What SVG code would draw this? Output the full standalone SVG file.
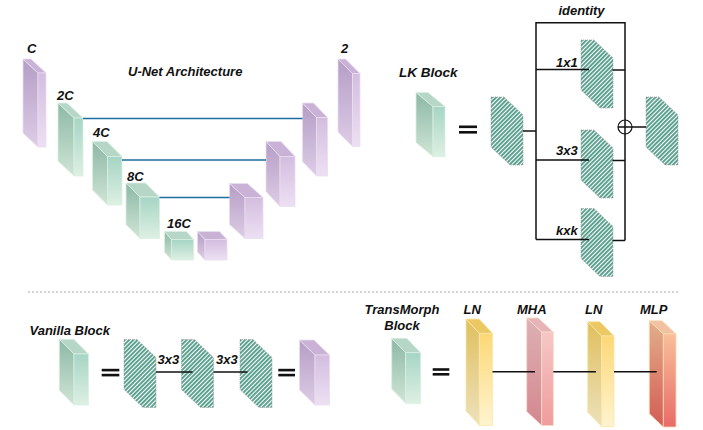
<svg xmlns="http://www.w3.org/2000/svg" xmlns:xlink="http://www.w3.org/1999/xlink" width="703" height="430" viewBox="0 0 703 430">
<defs>
<linearGradient id="pSide" x1="0" y1="0" x2="0" y2="1"><stop offset="0" stop-color="#b59dc5"/><stop offset="1" stop-color="#ddcce6"/></linearGradient>
<linearGradient id="pFront" x1="0" y1="0" x2="0" y2="1"><stop offset="0" stop-color="#d3bddf"/><stop offset="1" stop-color="#ede0f3"/></linearGradient>
<linearGradient id="gSide" x1="0" y1="0" x2="0" y2="1"><stop offset="0" stop-color="#8db8a7"/><stop offset="1" stop-color="#cfe5d5"/></linearGradient>
<linearGradient id="gFront" x1="0" y1="0" x2="0" y2="1"><stop offset="0" stop-color="#a6d5c5"/><stop offset="1" stop-color="#ddf0e3"/></linearGradient>
<linearGradient id="ySide" x1="0" y1="0" x2="0" y2="1"><stop offset="0" stop-color="#e0bf5e"/><stop offset="1" stop-color="#ece1bb"/></linearGradient>
<linearGradient id="yFront" x1="0" y1="0" x2="0" y2="1"><stop offset="0" stop-color="#fcd876"/><stop offset="1" stop-color="#fff4d0"/></linearGradient>
<linearGradient id="rSide" x1="0" y1="0" x2="0" y2="1"><stop offset="0" stop-color="#ddb0b4"/><stop offset="1" stop-color="#d4878f"/></linearGradient>
<linearGradient id="rFront" x1="0" y1="0" x2="0" y2="1"><stop offset="0" stop-color="#f6c7c7"/><stop offset="1" stop-color="#f09c9c"/></linearGradient>
<linearGradient id="oSide" x1="0" y1="0" x2="0" y2="1"><stop offset="0" stop-color="#e3ae8a"/><stop offset="1" stop-color="#d45c54"/></linearGradient>
<linearGradient id="oFront" x1="0" y1="0" x2="0" y2="1"><stop offset="0" stop-color="#f9be9a"/><stop offset="1" stop-color="#e86c68"/></linearGradient>
<pattern id="hatch" patternUnits="userSpaceOnUse" width="3" height="3" patternTransform="rotate(45)">
<rect x="0" y="0" width="1.9" height="3" fill="#559d8b"/>
</pattern>
<path id="hx" d="M0,0 H13 L32,18 V68 H19 L0,50 Z"/>
</defs>
<style>
text{font-family:"Liberation Sans",Arial,sans-serif;font-weight:bold;font-style:italic;font-size:13px;fill:#111}
.p .s{fill:url(#pSide)} .p .f{fill:url(#pFront)} .p .t{fill:#c9b2d6}
.p polygon,.p rect{stroke:#eadcf1;stroke-width:0.8}
.g .s{fill:url(#gSide)} .g .f{fill:url(#gFront)} .g .t{fill:#b6d6c7}
.g polygon,.g rect{stroke:#d9efe1;stroke-width:0.8}
.y .s{fill:url(#ySide)} .y .f{fill:url(#yFront)} .y .t{fill:#ebc862}
.y polygon,.y rect{stroke:#fbe6a8;stroke-width:0.8}
.r .s{fill:url(#rSide)} .r .f{fill:url(#rFront)} .r .t{fill:#e6b4b8}
.r polygon,.r rect{stroke:#f7dac8;stroke-width:0.8}
.o .s{fill:url(#oSide)} .o .f{fill:url(#oFront)} .o .t{fill:#f0c2a2}
.o polygon,.o rect{stroke:#f9dab2;stroke-width:0.8}
.h{fill:url(#hatch);stroke:#9a9a9a;stroke-width:0.8;stroke-dasharray:1 1}
.ln{stroke:#111;stroke-width:1.5;fill:none}
.bl{stroke:#1c6e9e;stroke-width:1.6;fill:none}
.eq{fill:#111}
</style>

<!-- separator -->
<line x1="28" y1="292" x2="680" y2="292" stroke="#aaaaaa" stroke-width="1" stroke-dasharray="2 2"/>

<!-- U-Net -->
<text x="128" y="76">U-Net Architecture</text>
<g id="unet-c" class="p">
<polygon class="s" points="38,73 23,59 23,133 38,147"/>
<polygon class="t" points="23,59 31,59 46,73 38,73"/>
<rect class="f" x="38" y="73" width="8" height="74"/>
<text x="27" y="53">C</text>
</g>
<g id="unet-2c" class="g">
<polygon class="s" points="74,118 58,103 58,161 74,176"/>
<polygon class="t" points="58,103 67,103 83,118 74,118"/>
<rect class="f" x="74" y="118" width="9" height="58"/>
<text x="57" y="99.5">2C</text>
</g>
<g id="unet-4c" class="g">
<polygon class="s" points="107.5,156.5 92.5,141.5 92.5,190 107.5,205"/>
<polygon class="t" points="92.5,141.5 107,141.5 122,156.5 107.5,156.5"/>
<rect class="f" x="107.5" y="156.5" width="14.5" height="48.5"/>
<text x="93" y="137">4C</text>
</g>
<g id="unet-8c" class="g">
<polygon class="s" points="140,197 126,183 126,224.5 140,238.5"/>
<polygon class="t" points="126,183 145.5,183 159.5,197 140,197"/>
<rect class="f" x="140" y="197" width="19.5" height="41.5"/>
<text x="127" y="181">8C</text>
</g>
<g id="unet-16c" class="g">
<polygon class="s" points="171.5,239.5 164.5,231.5 164.5,252 171.5,260"/>
<polygon class="t" points="164.5,231.5 186.5,231.5 193.5,239.5 171.5,239.5"/>
<rect class="f" x="171.5" y="239.5" width="22" height="20.5"/>
<text x="167" y="227.5">16C</text>
</g>
<g id="unet-bottleneck" class="p">
<polygon class="s" points="205,239.5 197.5,231.5 197.5,252 205,260"/>
<polygon class="t" points="197.5,231.5 219.5,231.5 227,239.5 205,239.5"/>
<rect class="f" x="205" y="239.5" width="22" height="20.5"/>
</g>
<g id="unet-d3" class="p">
<polygon class="s" points="245,197.5 229.5,183.5 229.5,224.5 245,238.5"/>
<polygon class="t" points="229.5,183.5 247.5,183.5 263,197.5 245,197.5"/>
<rect class="f" x="245" y="197.5" width="18" height="41"/>
</g>
<g id="unet-d2" class="p">
<polygon class="s" points="280,156.5 266,141.5 266,191.5 280,206.5"/>
<polygon class="t" points="266,141.5 281,141.5 295,156.5 280,156.5"/>
<rect class="f" x="280" y="156.5" width="15" height="50"/>
</g>
<g id="unet-d1" class="p">
<polygon class="s" points="316.5,117.5 302.5,103 302.5,161.5 316.5,176"/>
<polygon class="t" points="302.5,103 313.5,103 327.5,117.5 316.5,117.5"/>
<rect class="f" x="316.5" y="117.5" width="11" height="58.5"/>
</g>
<g id="unet-out" class="p">
<polygon class="s" points="352.5,73.5 338,59 338,132 352.5,146.5"/>
<polygon class="t" points="338,59 345.5,59 360,73.5 352.5,73.5"/>
<rect class="f" x="352.5" y="73.5" width="7.5" height="73"/>
<text x="341" y="53">2</text>
</g>

<!-- LK Block -->
<text x="399" y="76.5" style="font-size:13.5px">LK Block</text>
<g id="lk-box" class="g">
<polygon class="s" points="433,106.5 416,92.5 416,142.5 433,156.5"/>
<polygon class="t" points="416,92.5 428,92.5 445,106.5 433,106.5"/>
<rect class="f" x="433" y="106.5" width="12" height="50"/>
</g>
<g id="lk-eq"><rect class="eq" x="459" y="125.5" width="18" height="2.6"/><rect class="eq" x="459" y="131" width="18" height="2.6"/></g>
<g id="lk-in"><use href="#hx" xlink:href="#hx" class="h" x="491" y="97"/></g>
<g id="lk-1x1"><use href="#hx" xlink:href="#hx" class="h" x="581" y="40"/></g>
<g id="lk-3x3"><use href="#hx" xlink:href="#hx" class="h" x="581" y="130"/></g>
<g id="lk-kxk"><use href="#hx" xlink:href="#hx" class="h" x="581" y="208.5"/></g>
<g id="lk-out"><use href="#hx" xlink:href="#hx" class="h" x="646" y="97"/></g>
<g id="lk-sum"><circle cx="625" cy="127" r="7" fill="#fff" stroke="#111" stroke-width="1.2"/></g>
<text x="581.5" y="14.5" text-anchor="middle">identity</text>
<text x="556" y="66.5">1x1</text>
<text x="556" y="154.5">3x3</text>
<text x="556" y="234.5">kxk</text>

<!-- Vanilla Block -->
<text x="29.5" y="335">Vanilla Block</text>
<g id="v-box" class="g">
<polygon class="s" points="74,354 59.3,339.3 59.3,390.3 74,405"/>
<polygon class="t" points="59.3,339.3 73.8,339.3 88.5,354 74,354"/>
<rect class="f" x="74" y="354" width="14.5" height="51"/>
</g>
<g id="v-eq1"><rect class="eq" x="101.7" y="368.8" width="17.6" height="2.6"/><rect class="eq" x="101.7" y="373.8" width="17.6" height="2.6"/></g>
<g id="v-h1"><use href="#hx" xlink:href="#hx" class="h" x="124" y="339.5"/></g>
<g id="v-h2"><use href="#hx" xlink:href="#hx" class="h" x="181.5" y="339.5"/></g>
<g id="v-h3"><use href="#hx" xlink:href="#hx" class="h" x="240" y="339.5"/></g>
<text x="157.5" y="364">3x3</text>
<text x="216" y="364">3x3</text>
<g id="v-eq2"><rect class="eq" x="278.3" y="368.8" width="16.7" height="2.6"/><rect class="eq" x="278.3" y="373.8" width="16.7" height="2.6"/></g>
<g id="v-out" class="p">
<polygon class="s" points="315,355 299.5,340 299.5,390 315,405"/>
<polygon class="t" points="299.5,340 314,340 329.5,355 315,355"/>
<rect class="f" x="315" y="355" width="14.5" height="50"/>
</g>

<!-- TransMorph Block -->
<text x="402" y="314" text-anchor="middle">TransMorph</text>
<text x="402" y="329.5" text-anchor="middle">Block</text>
<g id="t-box" class="g">
<polygon class="s" points="405.7,352.7 391.7,338.3 391.7,388.9 405.7,403.3"/>
<polygon class="t" points="391.7,338.3 406.7,338.3 420.7,352.7 405.7,352.7"/>
<rect class="f" x="405.7" y="352.7" width="15" height="50.6"/>
</g>
<g id="t-eq"><rect class="eq" x="432.7" y="368.2" width="16.6" height="2.6"/><rect class="eq" x="432.7" y="373" width="16.6" height="2.6"/></g>
<g id="t-ln1" class="y">
<polygon class="s" points="479.3,333.3 466,319 466,411 479.3,425.3"/>
<polygon class="t" points="466,319 479.2,319 492.5,333.3 479.3,333.3"/>
<rect class="f" x="479.3" y="333.3" width="13.2" height="92"/>
<text x="463.5" y="314">LN</text>
</g>
<g id="t-mha" class="r">
<polygon class="s" points="541.7,332 526.7,318 526.7,411.5 541.7,425.5"/>
<polygon class="t" points="526.7,318 538.3,318 553.3,332 541.7,332"/>
<rect class="f" x="541.7" y="332" width="11.6" height="93.5"/>
<text x="517" y="314">MHA</text>
</g>
<g id="t-ln2" class="y">
<polygon class="s" points="601.7,336 587.7,321.7 587.7,412.2 601.7,426.5"/>
<polygon class="t" points="587.7,321.7 600,321.7 614,336 601.7,336"/>
<rect class="f" x="601.7" y="336" width="12.3" height="90.5"/>
<text x="585" y="314">LN</text>
</g>
<g id="t-mlp" class="o">
<polygon class="s" points="663.3,334 649.3,320.7 649.3,413.7 663.3,427"/>
<polygon class="t" points="649.3,320.7 662,320.7 676,334 663.3,334"/>
<rect class="f" x="663.3" y="334" width="12.7" height="93"/>
<text x="640" y="314">MLP</text>
</g>

<!-- connectors -->
<g id="connectors">
<line class="bl" x1="83" y1="118.5" x2="302.5" y2="118.5"/>
<line class="bl" x1="122" y1="160" x2="266" y2="160"/>
<line class="bl" x1="159.5" y1="197.5" x2="229.5" y2="197.5"/>
<path class="ln" d="M523,131 H536 M536,239.5 V22.7 H625 V240.5 M536,69.5 H589 M536,160 H589 M536,239.5 H589 M612.5,70 H625 M612.5,160.5 H625 M612.5,240.5 H625 M618,127 H646"/>
<line class="ln" x1="156" y1="372" x2="192.5" y2="372"/>
<line class="ln" x1="213.5" y1="372" x2="247.5" y2="372"/>
<line class="ln" x1="492.5" y1="371.7" x2="535" y2="371.7"/>
<line class="ln" x1="553.3" y1="371.7" x2="596" y2="371.7"/>
<line class="ln" x1="614" y1="371.7" x2="656.7" y2="371.7"/>
</g>
</svg>
